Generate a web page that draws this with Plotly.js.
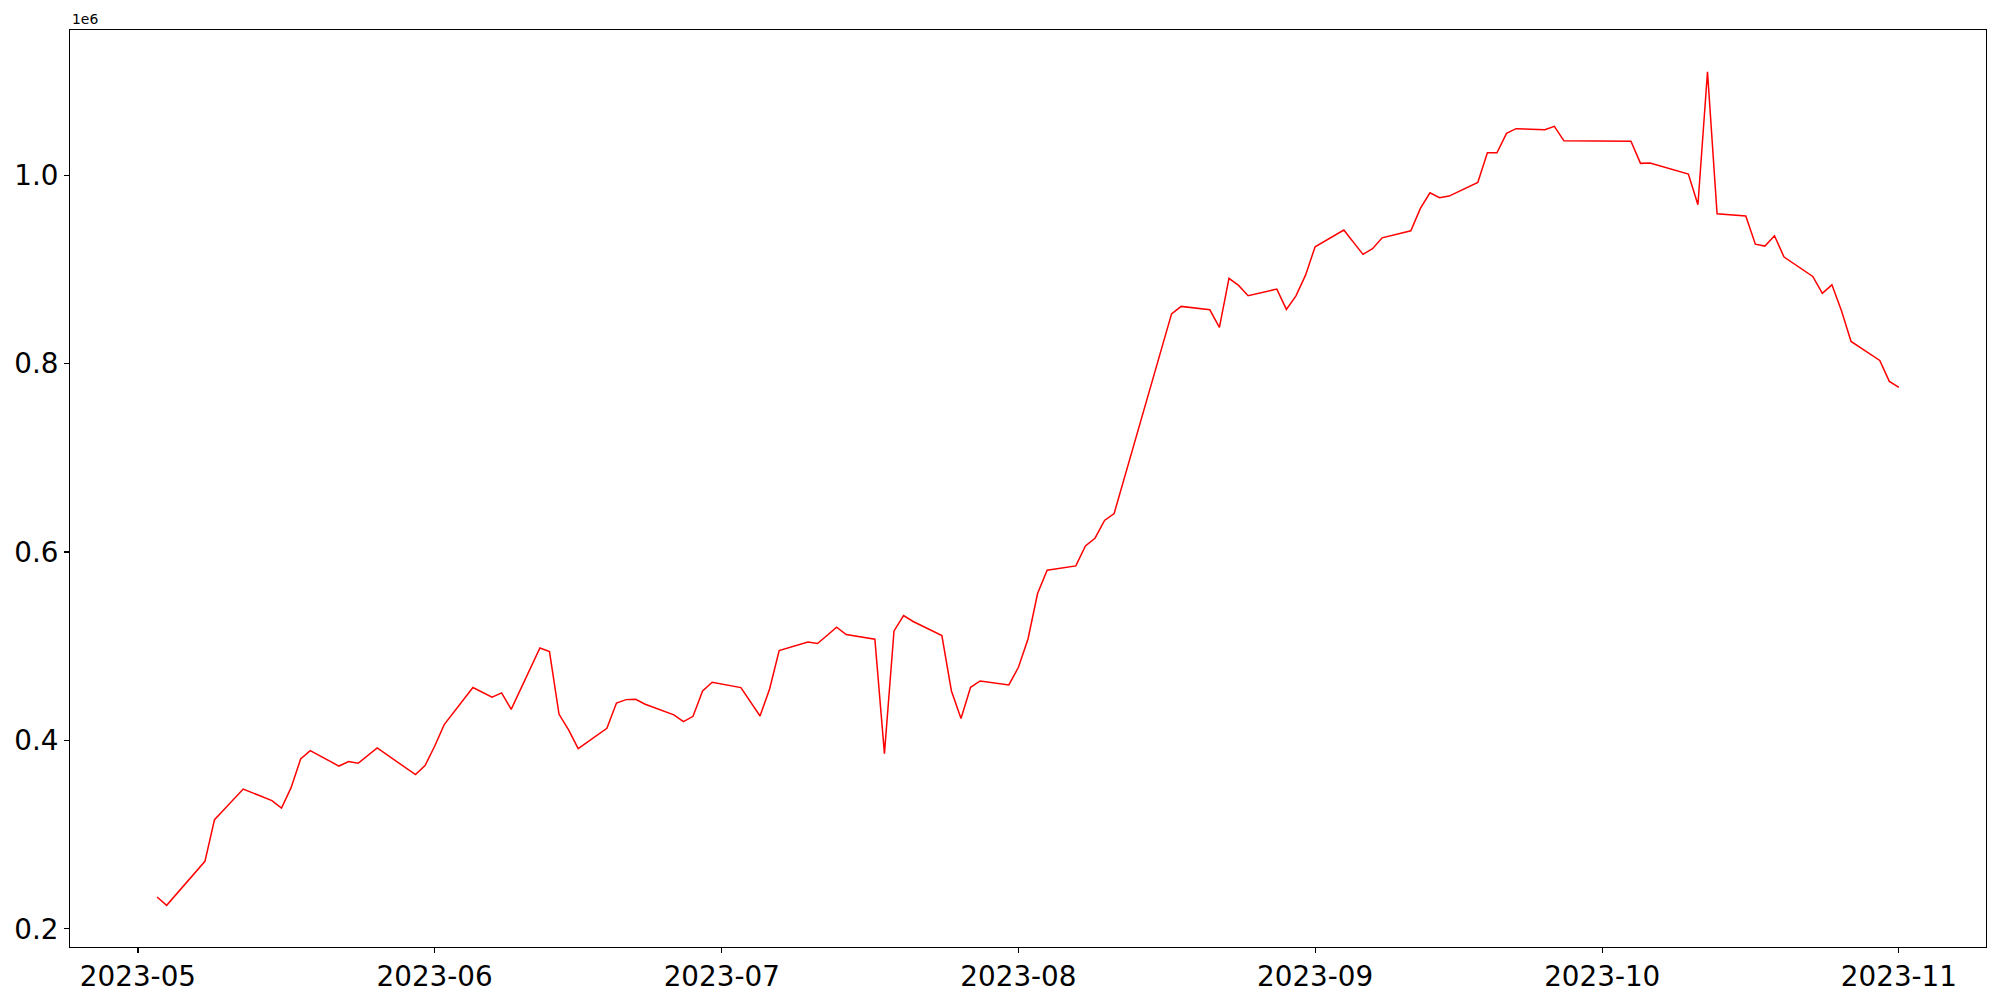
<!DOCTYPE html>
<html>
<head>
<meta charset="utf-8">
<script src="https://cdn.plot.ly/plotly-3.0.1.min.js"></script>
<style>
html, body { margin: 0; padding: 0; background: #ffffff; }
#chart { width: 2000px; height: 1000px; }
</style>
</head>
<body>
<div id="chart"></div>
<script>
const dates = [
  "2023-05-03","2023-05-04","2023-05-08","2023-05-09","2023-05-10","2023-05-12","2023-05-15","2023-05-16","2023-05-17","2023-05-18",
  "2023-05-19","2023-05-22","2023-05-23","2023-05-24","2023-05-26","2023-05-30","2023-05-31","2023-06-01","2023-06-02","2023-06-05",
  "2023-06-07","2023-06-08","2023-06-09","2023-06-12","2023-06-13","2023-06-14","2023-06-15","2023-06-16","2023-06-19","2023-06-20",
  "2023-06-21","2023-06-22","2023-06-23","2023-06-26","2023-06-27","2023-06-28","2023-06-29","2023-06-30","2023-07-03","2023-07-04",
  "2023-07-05","2023-07-06","2023-07-07","2023-07-10","2023-07-11","2023-07-12","2023-07-13","2023-07-14","2023-07-17","2023-07-18",
  "2023-07-19","2023-07-20","2023-07-21","2023-07-24","2023-07-25","2023-07-26","2023-07-27","2023-07-28","2023-07-31","2023-08-01",
  "2023-08-02","2023-08-03","2023-08-04","2023-08-07","2023-08-08","2023-08-09","2023-08-10","2023-08-11","2023-08-17","2023-08-18",
  "2023-08-21","2023-08-22","2023-08-23","2023-08-24","2023-08-25","2023-08-28","2023-08-29","2023-08-30","2023-08-31","2023-09-01",
  "2023-09-04","2023-09-06","2023-09-07","2023-09-08","2023-09-11","2023-09-12","2023-09-13","2023-09-14","2023-09-15","2023-09-18",
  "2023-09-19","2023-09-20","2023-09-21","2023-09-22","2023-09-25","2023-09-26","2023-09-27","2023-10-04","2023-10-05","2023-10-06",
  "2023-10-10","2023-10-11","2023-10-12","2023-10-13","2023-10-16","2023-10-17","2023-10-18","2023-10-19","2023-10-20","2023-10-23",
  "2023-10-24","2023-10-25","2023-10-26","2023-10-27","2023-10-30","2023-10-31","2023-11-01"
];

const values = [
  233800, 225000, 271700, 315900, 326600, 348400, 336100, 328200, 349900, 380300,
  389200, 372800, 377500, 375700, 392000, 363700, 373300, 393800, 416800, 456100,
  445800, 450400, 433000, 498100, 494300, 427700, 411100, 391300, 412900, 439700,
  443300, 443700, 438400, 427100, 420000, 425600, 452500, 461700, 456100, 441500,
  425900, 454600, 495400, 504500, 502800, 511300, 520100, 512400, 507400, 386000,
  516200, 532500, 526200, 511300, 452500, 423200, 456400, 463100, 458900, 477600,
  507700, 555900, 580600, 585200, 606400, 614600, 633400, 640800, 852700, 860600,
  857000, 838400, 890400, 882900, 872000, 879000, 857400, 871800, 893800, 923900,
  941600, 915800, 921800, 933400, 940900, 964600, 981200, 975900, 977700, 992200,
  1023700, 1023700, 1044300, 1049200, 1048100, 1051700, 1036300, 1035800, 1012400, 1012700,
  1001100, 968500, 1109700, 958900, 956500, 926700, 924600, 935600, 912900, 892400,
  874400, 883500, 856000, 823400, 803300, 781000, 774600
];

const xTickVals = ["2023-05-01","2023-06-01","2023-07-01","2023-08-01","2023-09-01","2023-10-01","2023-11-01"];
const xTickText = ["2023-05","2023-06","2023-07","2023-08","2023-09","2023-10","2023-11"];
const yTickVals = [200000, 400000, 600000, 800000, 1000000];
const yTickText = ["0.2", "0.4", "0.6", "0.8", "1.0"];
const offsetLabel = "1e6";

// 5% margins like matplotlib autoscale
const tms = dates.map(d => new Date(d + "T00:00:00Z").getTime());
const tMin = Math.min(...tms), tMax = Math.max(...tms);
const tPad = (tMax - tMin) * 0.05;
const fmt = ms => new Date(ms).toISOString().replace("T", " ").replace("Z", "");
const vMin = Math.min(...values), vMax = Math.max(...values);
const vPad = (vMax - vMin) * 0.05;

const tickFont = { family: "DejaVu Sans", size: 27.8, color: "#000000" };

const trace = {
  x: dates,
  y: values,
  type: "scatter",
  mode: "lines",
  line: { color: "#ff0000", width: 1.5 },
  hoverinfo: "skip"
};

const layout = {
  width: 2000,
  height: 1000,
  paper_bgcolor: "#ffffff",
  plot_bgcolor: "#ffffff",
  showlegend: false,
  margin: { l: 70, r: 14, t: 30, b: 53, pad: 0 },
  xaxis: {
    type: "date",
    range: [fmt(tMin - tPad), fmt(tMax + tPad)],
    tickmode: "array",
    tickvals: xTickVals,
    ticktext: xTickText,
    ticks: "outside",
    ticklen: 4.9,
    tickwidth: 1.1,
    tickcolor: "#000000",
    showline: true,
    linecolor: "#000000",
    linewidth: 1.1,
    mirror: true,
    showgrid: false,
    zeroline: false,
    tickfont: tickFont
  },
  yaxis: {
    range: [vMin - vPad, vMax + vPad],
    tickmode: "array",
    tickvals: yTickVals,
    ticktext: yTickText,
    ticks: "outside",
    ticklen: 4.9,
    tickwidth: 1.1,
    tickcolor: "#000000",
    showline: true,
    linecolor: "#000000",
    linewidth: 1.1,
    mirror: true,
    showgrid: false,
    zeroline: false,
    tickfont: tickFont
  },
  annotations: [{
    text: offsetLabel,
    xref: "paper", yref: "paper",
    x: 0, y: 1,
    xanchor: "left", yanchor: "bottom",
    yshift: 1,
    showarrow: false,
    font: { family: "DejaVu Sans", size: 13.9, color: "#000000" }
  }]
};

Plotly.newPlot("chart", [trace], layout, { staticPlot: true, displayModeBar: false });
</script>
</body>
</html>
